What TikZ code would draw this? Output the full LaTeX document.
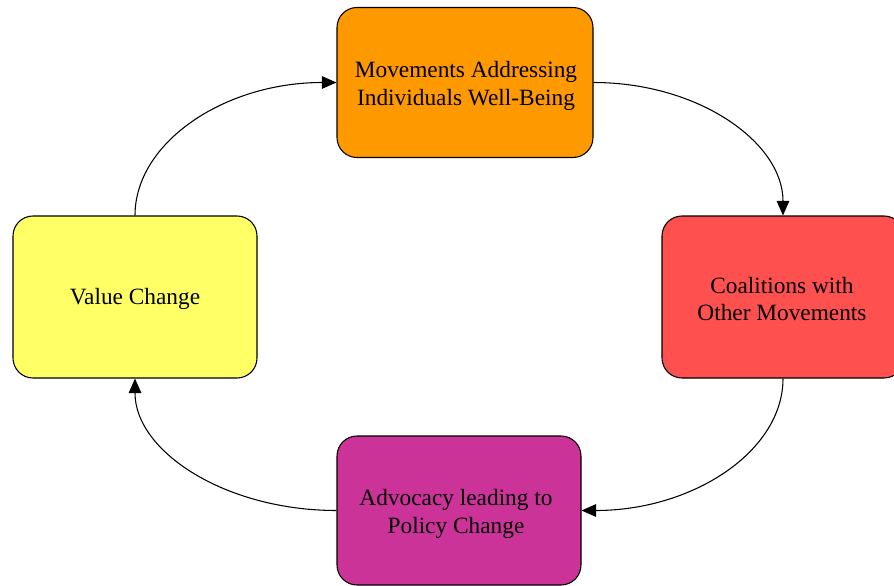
\documentclass[tikz,border=0pt]{standalone}
\usepackage{fontspec}
\setmainfont{Liberation Serif}
\usetikzlibrary{arrows.meta}
\definecolor{cOrange}{HTML}{FF9900}
\definecolor{cRed}{HTML}{FF5050}
\definecolor{cMagenta}{HTML}{CC3399}
\definecolor{cYellow}{HTML}{FFFF66}
\tikzset{
  boxnode/.style={draw=black, line width=0.8pt, rounded corners=15pt, align=center,
    inner sep=0pt},
  boxtext/.style={align=center, font=\fontsize{17.5pt}{20.5pt}\selectfont},
  arr/.style={draw=black, line width=0.8pt, -{Triangle[length=11pt,width=9.5pt]}}
}
\begin{document}
\begin{tikzpicture}[x=0.75pt,y=-0.75pt]
\useasboundingbox (0,0) rectangle (894,586);
\clip (0,0) rectangle (894,586);
\fill[white] (0,0) rectangle (894,586);
\node[boxnode, fill=cOrange, minimum width=192pt, minimum height=112.5pt] (T) at (465,82.5) {};
\node[boxtext] (Tt) at (466,86) {Movements Addressing\\ Individuals Well-Being};
\node[boxnode, fill=cRed, minimum width=181.5pt, minimum height=121.5pt] (R) at (783,297) {};
\node[boxtext] (Rt) at (782,299) {Coalitions with\\ Other Movements};
\node[boxnode, fill=cMagenta, minimum width=183pt, minimum height=111.75pt] (B) at (459,510.5) {};
\node[boxtext] (Bt) at (456,514) {Advocacy leading to\\ Policy Change};
\node[boxnode, fill=cYellow, minimum width=183pt, minimum height=121.5pt] (L) at (135,297) {};
\node[boxtext] (Lt) at (135,299) {Value Change};
\draw[arr] (L.north) .. controls +(0,-73) and +(-112,0) .. (T.west);
\draw[arr] (T.east) .. controls +(105,0) and +(0,-73) .. (R.north);
\draw[arr] (R.south) .. controls +(0,73) and +(111,0) .. (B.east);
\draw[arr] (B.west) .. controls +(-111,0) and +(0,73) .. (L.south);
\end{tikzpicture}
\end{document}
